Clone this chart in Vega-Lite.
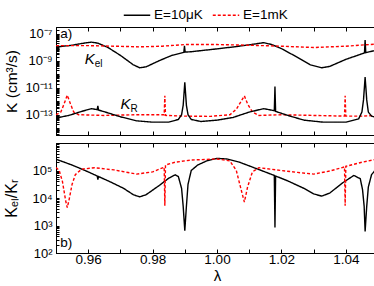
{
"$schema":"https://vega.github.io/schema/vega-lite/v6.json",
"padding":{"left":2,"top":1,"right":0,"bottom":0},
"background":"white",
"config":{"view":{"stroke":"black","strokeWidth":1},
"axis":{"grid":false,"domainColor":"black","domainWidth":1,"tickColor":"black","tickWidth":1,"labelColor":"black","labelFont":"Liberation Sans","labelFontSize":13,"titleFont":"Liberation Sans","titleFontSize":15,"titleFontWeight":"normal","titleColor":"black"},
"legend":{"labelFont":"Liberation Sans","labelFontSize":13.5,"labelColor":"black"}},
"datasets":{
"top":[
{"lam":0.950,"K":1.05e-8,"E":"E=10μK","q":"el"},{"lam":0.955,"K":1.41e-8,"E":"E=10μK","q":"el"},{"lam":0.958,"K":1.91e-8,"E":"E=10μK","q":"el"},{"lam":0.961,"K":2.40e-8,"E":"E=10μK","q":"el"},{"lam":0.963,"K":2.00e-8,"E":"E=10μK","q":"el"},{"lam":0.966,"K":1.00e-8,"E":"E=10μK","q":"el"},{"lam":0.970,"K":2.51e-9,"E":"E=10μK","q":"el"},{"lam":0.974,"K":5.01e-10,"E":"E=10μK","q":"el"},{"lam":0.976,"K":3.02e-10,"E":"E=10μK","q":"el"},{"lam":0.978,"K":3.55e-10,"E":"E=10μK","q":"el"},{"lam":0.982,"K":1.00e-9,"E":"E=10μK","q":"el"},{"lam":0.986,"K":2.51e-9,"E":"E=10μK","q":"el"},{"lam":0.9897,"K":4.17e-9,"E":"E=10μK","q":"el"},{"lam":0.9899,"K":1.26e-8,"E":"E=10μK","q":"el"},{"lam":0.9901,"K":4.37e-9,"E":"E=10μK","q":"el"},{"lam":0.992,"K":4.68e-9,"E":"E=10μK","q":"el"},{"lam":1.000,"K":7.59e-9,"E":"E=10μK","q":"el"},{"lam":1.005,"K":1.05e-8,"E":"E=10μK","q":"el"},{"lam":1.010,"K":1.51e-8,"E":"E=10μK","q":"el"},{"lam":1.0145,"K":2.19e-8,"E":"E=10μK","q":"el"},{"lam":1.017,"K":1.58e-8,"E":"E=10μK","q":"el"},{"lam":1.020,"K":7.94e-9,"E":"E=10μK","q":"el"},{"lam":1.025,"K":1.78e-9,"E":"E=10μK","q":"el"},{"lam":1.029,"K":5.01e-10,"E":"E=10μK","q":"el"},{"lam":1.0325,"K":3.02e-10,"E":"E=10μK","q":"el"},{"lam":1.035,"K":3.80e-10,"E":"E=10μK","q":"el"},{"lam":1.040,"K":1.26e-9,"E":"E=10μK","q":"el"},{"lam":1.0458,"K":3.80e-9,"E":"E=10μK","q":"el"},{"lam":1.046,"K":3.47e-8,"E":"E=10μK","q":"el"},{"lam":1.0462,"K":3.98e-9,"E":"E=10μK","q":"el"},{"lam":1.048,"K":5.01e-9,"E":"E=10μK","q":"el"},{"lam":1.050,"K":6.31e-9,"E":"E=10μK","q":"el"},
{"lam":0.950,"K":1.32e-8,"E":"E=1mK","q":"el"},{"lam":0.960,"K":1.32e-8,"E":"E=1mK","q":"el"},{"lam":0.970,"K":1.17e-8,"E":"E=1mK","q":"el"},{"lam":0.976,"K":1.07e-8,"E":"E=1mK","q":"el"},{"lam":0.983,"K":1.20e-8,"E":"E=1mK","q":"el"},{"lam":0.990,"K":1.58e-8,"E":"E=1mK","q":"el"},{"lam":1.000,"K":1.58e-8,"E":"E=1mK","q":"el"},{"lam":1.010,"K":1.41e-8,"E":"E=1mK","q":"el"},{"lam":1.020,"K":1.20e-8,"E":"E=1mK","q":"el"},{"lam":1.030,"K":9.55e-9,"E":"E=1mK","q":"el"},{"lam":1.040,"K":1.20e-8,"E":"E=1mK","q":"el"},{"lam":1.046,"K":1.51e-8,"E":"E=1mK","q":"el"},{"lam":1.050,"K":1.74e-8,"E":"E=1mK","q":"el"},
{"lam":0.950,"K":1.00e-13,"E":"E=1mK","q":"R"},{"lam":0.9515,"K":1.58e-13,"E":"E=1mK","q":"R"},{"lam":0.9525,"K":6.31e-13,"E":"E=1mK","q":"R"},{"lam":0.9535,"K":2.82e-12,"E":"E=1mK","q":"R"},{"lam":0.9545,"K":6.31e-13,"E":"E=1mK","q":"R"},{"lam":0.9555,"K":1.58e-13,"E":"E=1mK","q":"R"},{"lam":0.957,"K":1.00e-13,"E":"E=1mK","q":"R"},{"lam":0.965,"K":8.91e-14,"E":"E=1mK","q":"R"},{"lam":0.975,"K":1.00e-13,"E":"E=1mK","q":"R"},{"lam":0.9836,"K":1.00e-13,"E":"E=1mK","q":"R"},{"lam":0.9838,"K":2.51e-12,"E":"E=1mK","q":"R"},{"lam":0.984,"K":8.91e-14,"E":"E=1mK","q":"R"},{"lam":0.990,"K":7.94e-14,"E":"E=1mK","q":"R"},{"lam":0.998,"K":7.59e-14,"E":"E=1mK","q":"R"},{"lam":1.004,"K":1.00e-13,"E":"E=1mK","q":"R"},{"lam":1.006,"K":2.51e-13,"E":"E=1mK","q":"R"},{"lam":1.0075,"K":1.00e-12,"E":"E=1mK","q":"R"},{"lam":1.0085,"K":2.51e-12,"E":"E=1mK","q":"R"},{"lam":1.0095,"K":6.31e-13,"E":"E=1mK","q":"R"},{"lam":1.011,"K":1.58e-13,"E":"E=1mK","q":"R"},{"lam":1.013,"K":8.91e-14,"E":"E=1mK","q":"R"},{"lam":1.020,"K":1.00e-13,"E":"E=1mK","q":"R"},{"lam":1.030,"K":8.91e-14,"E":"E=1mK","q":"R"},{"lam":1.0396,"K":7.94e-14,"E":"E=1mK","q":"R"},{"lam":1.0398,"K":2.51e-12,"E":"E=1mK","q":"R"},{"lam":1.040,"K":7.94e-14,"E":"E=1mK","q":"R"},{"lam":1.045,"K":7.94e-14,"E":"E=1mK","q":"R"},{"lam":1.050,"K":8.91e-14,"E":"E=1mK","q":"R"},
{"lam":0.950,"K":5.75e-14,"E":"E=10μK","q":"R"},{"lam":0.954,"K":8.91e-14,"E":"E=10μK","q":"R"},{"lam":0.958,"K":1.78e-13,"E":"E=10μK","q":"R"},{"lam":0.961,"K":2.82e-13,"E":"E=10μK","q":"R"},{"lam":0.9628,"K":2.40e-13,"E":"E=10μK","q":"R"},{"lam":0.963,"K":4.47e-13,"E":"E=10μK","q":"R"},{"lam":0.9632,"K":2.24e-13,"E":"E=10μK","q":"R"},{"lam":0.966,"K":1.41e-13,"E":"E=10μK","q":"R"},{"lam":0.970,"K":7.08e-14,"E":"E=10μK","q":"R"},{"lam":0.975,"K":3.55e-14,"E":"E=10μK","q":"R"},{"lam":0.980,"K":2.82e-14,"E":"E=10μK","q":"R"},{"lam":0.985,"K":2.82e-14,"E":"E=10μK","q":"R"},{"lam":0.988,"K":4.47e-14,"E":"E=10μK","q":"R"},{"lam":0.989,"K":1.00e-13,"E":"E=10μK","q":"R"},{"lam":0.9895,"K":5.01e-13,"E":"E=10μK","q":"R"},{"lam":0.990,"K":2.51e-11,"E":"E=10μK","q":"R"},{"lam":0.9905,"K":5.01e-13,"E":"E=10μK","q":"R"},{"lam":0.991,"K":1.00e-13,"E":"E=10μK","q":"R"},{"lam":0.992,"K":4.47e-14,"E":"E=10μK","q":"R"},{"lam":0.995,"K":3.16e-14,"E":"E=10μK","q":"R"},{"lam":1.000,"K":3.98e-14,"E":"E=10μK","q":"R"},{"lam":1.005,"K":6.31e-14,"E":"E=10μK","q":"R"},{"lam":1.010,"K":1.58e-13,"E":"E=10μK","q":"R"},{"lam":1.0145,"K":2.82e-13,"E":"E=10μK","q":"R"},{"lam":1.0178,"K":2.00e-13,"E":"E=10μK","q":"R"},{"lam":1.018,"K":1.26e-11,"E":"E=10μK","q":"R"},{"lam":1.0182,"K":1.78e-13,"E":"E=10μK","q":"R"},{"lam":1.022,"K":8.91e-14,"E":"E=10μK","q":"R"},{"lam":1.027,"K":3.98e-14,"E":"E=10μK","q":"R"},{"lam":1.033,"K":2.82e-14,"E":"E=10μK","q":"R"},{"lam":1.040,"K":2.82e-14,"E":"E=10μK","q":"R"},{"lam":1.044,"K":5.01e-14,"E":"E=10μK","q":"R"},{"lam":1.045,"K":1.58e-13,"E":"E=10μK","q":"R"},{"lam":1.0455,"K":1.26e-12,"E":"E=10μK","q":"R"},{"lam":1.046,"K":6.31e-11,"E":"E=10μK","q":"R"},{"lam":1.0465,"K":1.26e-12,"E":"E=10μK","q":"R"},{"lam":1.047,"K":1.58e-13,"E":"E=10μK","q":"R"},{"lam":1.048,"K":7.94e-14,"E":"E=10μK","q":"R"},{"lam":1.050,"K":5.75e-14,"E":"E=10μK","q":"R"}
],
"bot":[
{"lam":0.950,"r":2.57e5,"E":"E=10μK"},{"lam":0.955,"r":1.58e5,"E":"E=10μK"},{"lam":0.960,"r":8.91e4,"E":"E=10μK"},{"lam":0.9628,"r":6.31e4,"E":"E=10μK"},{"lam":0.963,"r":4.68e4,"E":"E=10μK"},{"lam":0.9632,"r":6.03e4,"E":"E=10μK"},{"lam":0.967,"r":3.80e4,"E":"E=10μK"},{"lam":0.971,"r":2.24e4,"E":"E=10μK"},{"lam":0.974,"r":1.32e4,"E":"E=10μK"},{"lam":0.976,"r":1.10e4,"E":"E=10μK"},{"lam":0.978,"r":1.32e4,"E":"E=10μK"},{"lam":0.982,"r":2.82e4,"E":"E=10μK"},{"lam":0.985,"r":5.25e4,"E":"E=10μK"},{"lam":0.987,"r":6.92e4,"E":"E=10μK"},{"lam":0.988,"r":6.03e4,"E":"E=10μK"},{"lam":0.989,"r":2.24e4,"E":"E=10μK"},{"lam":0.9895,"r":5.01e3,"E":"E=10μK"},{"lam":0.990,"r":6.46e2,"E":"E=10μK"},{"lam":0.9905,"r":5.01e3,"E":"E=10μK"},{"lam":0.991,"r":3.16e4,"E":"E=10μK"},{"lam":0.992,"r":1.00e5,"E":"E=10μK"},{"lam":0.994,"r":1.58e5,"E":"E=10μK"},{"lam":0.997,"r":2.29e5,"E":"E=10μK"},{"lam":1.000,"r":2.75e5,"E":"E=10μK"},{"lam":1.003,"r":2.63e5,"E":"E=10μK"},{"lam":1.007,"r":2.00e5,"E":"E=10μK"},{"lam":1.012,"r":1.20e5,"E":"E=10μK"},{"lam":1.0178,"r":6.61e4,"E":"E=10μK"},{"lam":1.018,"r":8.51e2,"E":"E=10μK"},{"lam":1.0182,"r":6.31e4,"E":"E=10μK"},{"lam":1.022,"r":4.17e4,"E":"E=10μK"},{"lam":1.027,"r":2.24e4,"E":"E=10μK"},{"lam":1.030,"r":1.41e4,"E":"E=10μK"},{"lam":1.0325,"r":1.17e4,"E":"E=10μK"},{"lam":1.035,"r":1.51e4,"E":"E=10μK"},{"lam":1.039,"r":3.55e4,"E":"E=10μK"},{"lam":1.0425,"r":6.61e4,"E":"E=10μK"},{"lam":1.0445,"r":5.01e4,"E":"E=10μK"},{"lam":1.0452,"r":2.00e4,"E":"E=10μK"},{"lam":1.0457,"r":5.01e3,"E":"E=10μK"},{"lam":1.046,"r":6.03e2,"E":"E=10μK"},{"lam":1.0465,"r":5.01e3,"E":"E=10μK"},{"lam":1.047,"r":2.51e4,"E":"E=10μK"},{"lam":1.048,"r":7.08e4,"E":"E=10μK"},{"lam":1.050,"r":1.35e5,"E":"E=10μK"},
{"lam":0.950,"r":1.29e5,"E":"E=1mK"},{"lam":0.951,"r":1.00e5,"E":"E=1mK"},{"lam":0.952,"r":3.98e4,"E":"E=1mK"},{"lam":0.953,"r":7.94e3,"E":"E=1mK"},{"lam":0.9535,"r":4.47e3,"E":"E=1mK"},{"lam":0.954,"r":7.94e3,"E":"E=1mK"},{"lam":0.955,"r":3.16e4,"E":"E=1mK"},{"lam":0.956,"r":7.08e4,"E":"E=1mK"},{"lam":0.958,"r":1.12e5,"E":"E=1mK"},{"lam":0.962,"r":1.26e5,"E":"E=1mK"},{"lam":0.968,"r":1.05e5,"E":"E=1mK"},{"lam":0.975,"r":7.41e4,"E":"E=1mK"},{"lam":0.980,"r":8.91e4,"E":"E=1mK"},{"lam":0.9836,"r":1.32e5,"E":"E=1mK"},{"lam":0.9838,"r":5.25e3,"E":"E=1mK"},{"lam":0.984,"r":1.58e5,"E":"E=1mK"},{"lam":0.987,"r":2.00e5,"E":"E=1mK"},{"lam":0.992,"r":2.40e5,"E":"E=1mK"},{"lam":1.000,"r":2.63e5,"E":"E=1mK"},{"lam":1.004,"r":2.24e5,"E":"E=1mK"},{"lam":1.006,"r":1.00e5,"E":"E=1mK"},{"lam":1.0075,"r":2.00e4,"E":"E=1mK"},{"lam":1.0085,"r":7.08e3,"E":"E=1mK"},{"lam":1.0095,"r":2.51e4,"E":"E=1mK"},{"lam":1.011,"r":8.91e4,"E":"E=1mK"},{"lam":1.013,"r":1.26e5,"E":"E=1mK"},{"lam":1.020,"r":1.00e5,"E":"E=1mK"},{"lam":1.025,"r":8.51e4,"E":"E=1mK"},{"lam":1.030,"r":7.41e4,"E":"E=1mK"},{"lam":1.035,"r":9.55e4,"E":"E=1mK"},{"lam":1.0396,"r":1.35e5,"E":"E=1mK"},{"lam":1.0398,"r":5.25e3,"E":"E=1mK"},{"lam":1.040,"r":1.41e5,"E":"E=1mK"},{"lam":1.045,"r":2.00e5,"E":"E=1mK"},{"lam":1.050,"r":2.63e5,"E":"E=1mK"}
]},
"vconcat":[
{"width":322,"height":108,
"layer":[
{"data":{"name":"top"},"mark":{"type":"line","strokeWidth":1.4,"clip":true},
"encoding":{
"x":{"field":"lam","type":"quantitative","scale":{"domain":[0.95,1.05],"nice":false,"zero":false},"axis":{"orient":"bottom","title":null,"labels":false,"tickSize":-4,"values":[0.95,0.96,0.97,0.98,0.99,1.0,1.01,1.02,1.03,1.04,1.05]}},
"y":{"field":"K","type":"quantitative","scale":{"type":"log","domain":[3.1623e-15,3.1623e-7],"nice":false},"axis":{"orient":"left","title":"K (cm³/s)","titleFontSize":15.5,"tickSize":-3,"labelPadding":7,"minExtent":35,"maxExtent":35,"titlePadding":2,"values":[4e-15,5e-15,6e-15,7e-15,8e-15,9e-15,1e-14,2e-14,3e-14,4e-14,5e-14,6e-14,7e-14,8e-14,9e-14,1e-13,2e-13,3e-13,4e-13,5e-13,6e-13,7e-13,8e-13,9e-13,1e-12,2e-12,3e-12,4e-12,5e-12,6e-12,7e-12,8e-12,9e-12,1e-11,2e-11,3e-11,4e-11,5e-11,6e-11,7e-11,8e-11,9e-11,1e-10,2e-10,3e-10,4e-10,5e-10,6e-10,7e-10,8e-10,9e-10,1e-9,2e-9,3e-9,4e-9,5e-9,6e-9,7e-9,8e-9,9e-9,1e-8,2e-8,3e-8,4e-8,5e-8,6e-8,7e-8,8e-8,9e-8,1e-7,2e-7,3e-7],"labelExpr":"datum.value == 1e-7 ? '10⁻⁷' : datum.value == 1e-9 ? '10⁻⁹' : datum.value == 1e-11 ? '10⁻¹¹' : datum.value == 1e-13 ? '10⁻¹³' : ''"}},
"color":{"field":"E","type":"nominal","scale":{"domain":["E=10μK","E=1mK"],"range":["#000000","#ff0000"]},"legend":{"orient":"none","legendX":67,"legendY":-26,"direction":"horizontal","title":null,"symbolType":"stroke","symbolSize":700,"symbolStrokeWidth":1.5,"columnPadding":6,"labelOffset":3}},
"strokeDash":{"field":"E","type":"nominal","scale":{"domain":["E=10μK","E=1mK"],"range":[[1,0],[3,2]]},"legend":{"orient":"none","legendX":67,"legendY":-26,"direction":"horizontal","title":null,"symbolType":"stroke","symbolSize":700,"symbolStrokeWidth":1.5,"columnPadding":6,"labelOffset":3}},
"detail":{"field":"q"}}},
{"data":{"name":"top"},"mark":{"type":"line","strokeOpacity":0},
"encoding":{
"x":{"field":"lam","type":"quantitative","scale":{"domain":[0.95,1.05],"nice":false,"zero":false},"axis":{"orient":"top","title":null,"labels":false,"domain":false,"tickSize":-4,"values":[0.95,0.96,0.97,0.98,0.99,1.0,1.01,1.02,1.03,1.04,1.05]}},
"y":{"field":"K","type":"quantitative","scale":{"type":"log","domain":[3.1623e-15,3.1623e-7],"nice":false},"axis":{"orient":"right","title":null,"labels":false,"domain":false,"tickSize":-3,"values":[4e-15,5e-15,6e-15,7e-15,8e-15,9e-15,1e-14,2e-14,3e-14,4e-14,5e-14,6e-14,7e-14,8e-14,9e-14,1e-13,2e-13,3e-13,4e-13,5e-13,6e-13,7e-13,8e-13,9e-13,1e-12,2e-12,3e-12,4e-12,5e-12,6e-12,7e-12,8e-12,9e-12,1e-11,2e-11,3e-11,4e-11,5e-11,6e-11,7e-11,8e-11,9e-11,1e-10,2e-10,3e-10,4e-10,5e-10,6e-10,7e-10,8e-10,9e-10,1e-9,2e-9,3e-9,4e-9,5e-9,6e-9,7e-9,8e-9,9e-9,1e-8,2e-8,3e-8,4e-8,5e-8,6e-8,7e-8,8e-8,9e-8,1e-7,2e-7,3e-7]}},
"detail":{"field":"E"}}},
{"data":{"values":[{"lam":0.9605,"K":1.25e-9},{"lam":0.9716,"K":6.3e-13}]},"mark":{"type":"text","text":"K","font":"Liberation Sans","fontSize":15,"fontStyle":"italic","align":"center","baseline":"middle"},
"encoding":{"x":{"field":"lam","type":"quantitative","axis":null},"y":{"field":"K","type":"quantitative","axis":null}}},
{"data":{"values":[{"lam":0.9605,"K":1.25e-9,"t":"el"},{"lam":0.9716,"K":6.3e-13,"t":"R"}]},"mark":{"type":"text","font":"Liberation Sans","fontSize":10,"align":"left","baseline":"middle","dx":5,"dy":5},
"encoding":{"x":{"field":"lam","type":"quantitative","axis":null},"y":{"field":"K","type":"quantitative","axis":null},"text":{"field":"t"}}},
{"data":{"values":[{"lam":0.9513,"K":1.0e-7,"t":"a)"}]},"mark":{"type":"text","font":"Liberation Sans","fontSize":13.5,"align":"left","baseline":"middle"},
"encoding":{"x":{"field":"lam","type":"quantitative","axis":null},"y":{"field":"K","type":"quantitative","axis":null},"text":{"field":"t"}}}
],
"resolve":{"axis":{"x":"independent","y":"independent"}}},
{"width":322,"height":110,
"layer":[
{"data":{"name":"bot"},"mark":{"type":"line","strokeWidth":1.4,"clip":true},
"encoding":{
"x":{"field":"lam","type":"quantitative","scale":{"domain":[0.95,1.05],"nice":false,"zero":false},"axis":{"orient":"bottom","title":"λ","titlePadding":3,"labelFontSize":13.5,"tickSize":-4,"labelPadding":3,"values":[0.95,0.96,0.97,0.98,0.99,1.0,1.01,1.02,1.03,1.04,1.05],"labelExpr":"indexof(['0.96','0.98','1.00','1.02','1.04'], format(datum.value, '.2f')) >= 0 ? format(datum.value, '.2f') : ''"}},
"y":{"field":"r","type":"quantitative","scale":{"type":"log","domain":[100,1000000],"nice":false},"axis":{"orient":"left","title":"Kₑₗ/Kᵣ","titleFontSize":16,"tickSize":-3,"labelPadding":7,"minExtent":35,"maxExtent":35,"titlePadding":2,"values":[100,200,300,400,500,600,700,800,900,1000,2000,3000,4000,5000,6000,7000,8000,9000,10000,20000,30000,40000,50000,60000,70000,80000,90000,100000,200000,300000,400000,500000,600000,700000,800000,900000,1000000],"labelExpr":"datum.value == 100 ? '10²' : datum.value == 1000 ? '10³' : datum.value == 10000 ? '10⁴' : datum.value == 100000 ? '10⁵' : ''"}},
"color":{"field":"E","type":"nominal","scale":{"domain":["E=10μK","E=1mK"],"range":["#000000","#ff0000"]},"legend":{"orient":"none","legendX":67,"legendY":-26,"direction":"horizontal","title":null,"symbolType":"stroke","symbolSize":700,"symbolStrokeWidth":1.5,"columnPadding":6,"labelOffset":3}},
"strokeDash":{"field":"E","type":"nominal","scale":{"domain":["E=10μK","E=1mK"],"range":[[1,0],[3,2]]},"legend":{"orient":"none","legendX":67,"legendY":-26,"direction":"horizontal","title":null,"symbolType":"stroke","symbolSize":700,"symbolStrokeWidth":1.5,"columnPadding":6,"labelOffset":3}}}},
{"data":{"name":"bot"},"mark":{"type":"line","strokeOpacity":0},
"encoding":{
"x":{"field":"lam","type":"quantitative","scale":{"domain":[0.95,1.05],"nice":false,"zero":false},"axis":{"orient":"top","title":null,"labels":false,"domain":false,"tickSize":-4,"values":[0.95,0.96,0.97,0.98,0.99,1.0,1.01,1.02,1.03,1.04,1.05]}},
"y":{"field":"r","type":"quantitative","scale":{"type":"log","domain":[100,1000000],"nice":false},"axis":{"orient":"right","title":null,"labels":false,"domain":false,"tickSize":-3,"values":[100,200,300,400,500,600,700,800,900,1000,2000,3000,4000,5000,6000,7000,8000,9000,10000,20000,30000,40000,50000,60000,70000,80000,90000,100000,200000,300000,400000,500000,600000,700000,800000,900000,1000000]}},
"detail":{"field":"E"}}},
{"data":{"values":[{"lam":0.9513,"r":230,"t":"b)"}]},"mark":{"type":"text","font":"Liberation Sans","fontSize":13.5,"align":"left","baseline":"middle"},
"encoding":{"x":{"field":"lam","type":"quantitative","axis":null},"y":{"field":"r","type":"quantitative","axis":null},"text":{"field":"t"}}}
],
"resolve":{"axis":{"x":"independent","y":"independent"}}}
],
"spacing":6
}
